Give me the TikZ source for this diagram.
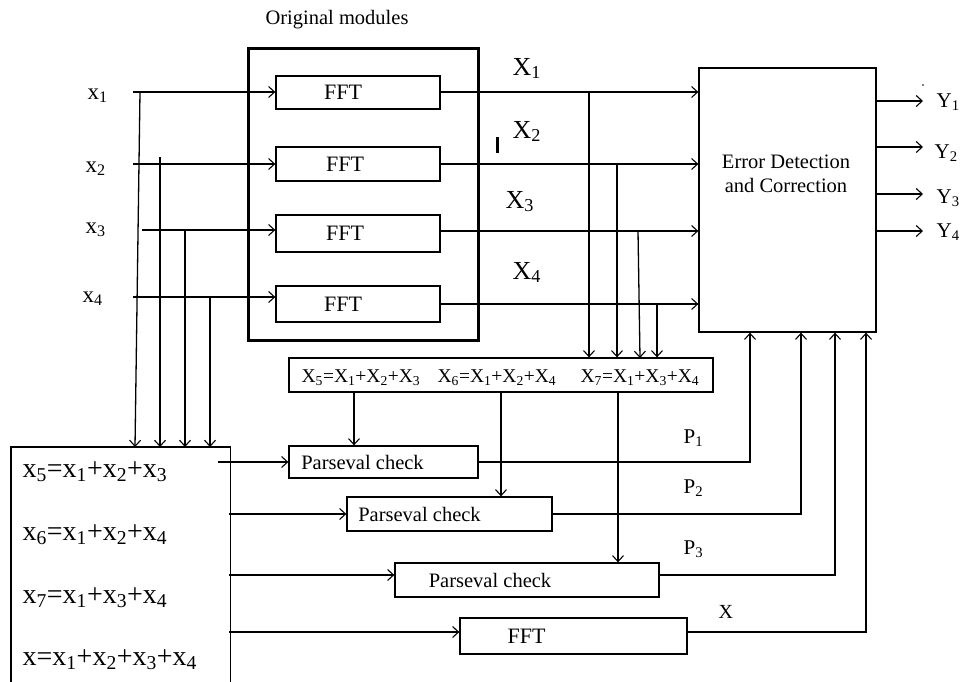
\documentclass[tikz,border=0pt]{standalone}
\usepackage{fontspec}
\setmainfont{Liberation Serif}
\usetikzlibrary{arrows.meta}
\newcommand{\sbs}[1]{\textsubscript{#1}}
\newcommand{\padr}[1]{\rule{#1}{0pt}}
\begin{document}
\begin{tikzpicture}[x=1pt,y=-1pt, line width=1.3pt,
  arr/.style={-{Straight Barb[length=6pt,width=11pt,line width=1.1pt]}},
  box/.style={draw, line width=1.3pt, inner sep=0pt},
  lab/.style={inner sep=0pt, anchor=base west},
  f20/.style={font=\fontsize{20.5}{24}\selectfont},
  f22/.style={font=\fontsize{22}{24}\selectfont},
]
\useasboundingbox (0,0) rectangle (960,681);

% title and original modules box
\node[f20, inner sep=0pt] (title) at (337,20) {Original modules};
\node[draw, line width=3pt, minimum width=230pt, minimum height=292pt, inner sep=0pt] (om) at (363,194) {};

% FFT boxes
\node[box, f22, minimum width=164pt, minimum height=33pt] (f1) at (358,92.5) {FFT\padr{30pt}};
\node[box, f22, minimum width=164pt, minimum height=34pt] (f2) at (358,164) {FFT\padr{26pt}};
\node[box, f22, minimum width=164pt, minimum height=37pt] (f3) at (358,233.5) {FFT\padr{26pt}};
\node[box, f22, minimum width=164pt, minimum height=36pt] (f4) at (358,304) {FFT\padr{30pt}};

% inputs
\node[lab, font=\fontsize{23}{26}\selectfont] (x1) at (87,99) {x\sbs{1}};
\node[lab, font=\fontsize{23}{26}\selectfont] (x2) at (85,172) {x\sbs{2}};
\node[lab, font=\fontsize{23}{26}\selectfont] (x3) at (85,233) {x\sbs{3}};
\node[lab, font=\fontsize{23}{26}\selectfont] (x4) at (82,302) {x\sbs{4}};
\coordinate (i1) at (133,92);
\coordinate (i2) at (133,164);
\coordinate (i3) at (142,230);
\coordinate (i4) at (133,297);
\draw[arr] (i1) -- (i1 -| f1.west);
\draw[arr] (i2) -- (i2 -| f2.west);
\draw[arr] (i3) -- (i3 -| f3.west);
\draw[arr] (i4) -- (i4 -| f4.west);

% lower-left box
\node[inner sep=0pt, minimum width=218pt, minimum height=235pt, anchor=north west] (lb) at (11,447) {};
\draw (lb.south west) -- (lb.north west) -- (lb.north east) -- (lb.south east);
\coordinate (v1) at (140,92);
\coordinate (v1b) at (135,447);
\coordinate (v2) at (160,157);
\coordinate (v3) at (185,230);
\coordinate (v4) at (210,297);
\draw[arr] (v1) -- (v1b);
\draw[arr] (v2) -- (v2 |- lb.north);
\draw[arr] (v3) -- (v3 |- lb.north);
\draw[arr] (v4) -- (v4 |- lb.north);

\node[lab, font=\fontsize{28}{30}\selectfont] (e5) at (22,477) {x\sbs{5}=x\sbs{1}+x\sbs{2}+x\sbs{3}};
\node[lab, font=\fontsize{28}{30}\selectfont] (e6) at (22,540) {x\sbs{6}=x\sbs{1}+x\sbs{2}+x\sbs{4}};
\node[lab, font=\fontsize{28}{30}\selectfont] (e7) at (22,603) {x\sbs{7}=x\sbs{1}+x\sbs{3}+x\sbs{4}};
\node[lab, font=\fontsize{28}{30}\selectfont] (e8) at (22,665) {x=x\sbs{1}+x\sbs{2}+x\sbs{3}+x\sbs{4}};

% Parseval checks and FFT
\node[box, f20, minimum width=189pt, minimum height=32pt] (p1) at (383.5,462) {Parseval check\padr{42pt}};
\node[box, f20, minimum width=205pt, minimum height=34pt] (p2) at (449.5,514) {Parseval check\padr{60pt}};
\node[box, f20, minimum width=264pt, minimum height=34pt] (p3) at (527,580) {Parseval check\padr{74pt}};
\node[box, f22, minimum width=227pt, minimum height=36pt] (f5) at (573.5,636) {FFT\padr{94pt}};

\coordinate (o1) at (218,462);
\coordinate (o2) at (229,514);
\coordinate (o3) at (229,575);
\coordinate (o4) at (229,632);
\draw[arr] (o1) -- (p1.west);
\draw[arr] (o2) -- (p2.west);
\draw[arr] (o3) -- (o3 -| p3.west);
\draw[arr] (o4) -- (o4 -| f5.west);

% middle box
\node[box, minimum width=424pt, minimum height=34pt] (m) at (501,375) {};
\node[lab, font=\fontsize{19.5}{22}\selectfont] (m5) at (301,382) {X\sbs{5}=X\sbs{1}+X\sbs{2}+X\sbs{3}};
\node[lab, font=\fontsize{19.5}{22}\selectfont] (m6) at (437,382) {X\sbs{6}=X\sbs{1}+X\sbs{2}+X\sbs{4}};
\node[lab, font=\fontsize{19.5}{22}\selectfont] (m7) at (580,382) {X\sbs{7}=X\sbs{1}+X\sbs{3}+X\sbs{4}};

\coordinate (d1) at (354,0);
\coordinate (d2) at (501,0);
\coordinate (d3) at (618,0);
\draw[arr] (m.south -| d1) -- (p1.north -| d1);
\draw[arr] (m.south -| d2) -- (p2.north -| d2);
\draw[arr] (m.south -| d3) -- (p3.north -| d3);

% error detection box
\node[box, minimum width=177pt, minimum height=264pt] (e) at (787.5,200) {};
\node[inner sep=0pt, align=center, font=\fontsize{20.5}{24.5}\selectfont] (et) at (786,174) {Error Detection\\and Correction};

% FFT outputs
\coordinate (q1) at (440,92);
\coordinate (q2) at (440,164);
\coordinate (q3) at (440,231);
\coordinate (q4) at (440,304);
\draw[arr] (q1) -- (q1 -| e.west);
\draw[arr] (q2) -- (q2 -| e.west);
\draw[arr] (q3) -- (q3 -| e.west);
\draw[arr] (q4) -- (q4 -| e.west);

\node[lab, font=\fontsize{26}{28}\selectfont] (X1) at (512,75) {X\sbs{1}};
\node[lab, font=\fontsize{26}{28}\selectfont] (X2) at (512,138) {X\sbs{2}};
\node[lab, font=\fontsize{26}{28}\selectfont] (X3) at (505,208) {X\sbs{3}};
\node[lab, font=\fontsize{26}{28}\selectfont] (X4) at (512,279) {X\sbs{4}};
\draw[line width=3pt] (497,137) -- (497,153);

% taps down to middle box
\coordinate (t1) at (589,92);
\coordinate (t2) at (617,164);
\coordinate (t3) at (638,231);
\coordinate (t3b) at (640,358);
\coordinate (t4) at (657,304);
\draw[arr] (t1) -- (t1 |- m.north);
\draw[arr] (t2) -- (t2 |- m.north);
\draw[arr] (t3) -- (t3b);
\draw[arr] (t4) -- (t4 |- m.north);

% outputs Y
\coordinate (y1) at (923,101);
\coordinate (y2) at (923,147);
\coordinate (y3) at (923,194);
\coordinate (y4) at (923,231);
\draw[arr] (y1 -| e.east) -- (y1);
\draw[arr] (y2 -| e.east) -- (y2);
\draw[arr] (y3 -| e.east) -- (y3);
\draw[arr] (y4 -| e.east) -- (y4);
\node[lab, font=\fontsize{21}{24}\selectfont] (Y1) at (936,107) {Y\sbs{1}};
\node[lab, font=\fontsize{21}{24}\selectfont] (Y2) at (934,158) {Y\sbs{2}};
\node[lab, font=\fontsize{21}{24}\selectfont] (Y3) at (936,203) {Y\sbs{3}};
\node[lab, font=\fontsize{21}{24}\selectfont] (Y4) at (936,237) {Y\sbs{4}};
\fill (923,85) circle (0.8pt);

% feedback into error box
\coordinate (r1) at (750,0);
\coordinate (r2) at (801,0);
\coordinate (r3) at (835,0);
\coordinate (r4) at (866,0);
\coordinate (s3) at (659,575);
\coordinate (s4) at (687,632);
\draw[arr] (p1.east) -| (e.south -| r1);
\draw[arr] (p2.east) -| (e.south -| r2);
\draw[arr] (s3) -| (e.south -| r3);
\draw[arr] (s4) -| (e.south -| r4);
\node[lab, font=\fontsize{21}{24}\selectfont] (P1) at (683,443) {P\sbs{1}};
\node[lab, font=\fontsize{21}{24}\selectfont] (P2) at (683,493) {P\sbs{2}};
\node[lab, font=\fontsize{21}{24}\selectfont] (P3) at (683,554) {P\sbs{3}};
\node[lab, font=\fontsize{20}{24}\selectfont] (PX) at (718,618) {X};
\end{tikzpicture}
\end{document}
